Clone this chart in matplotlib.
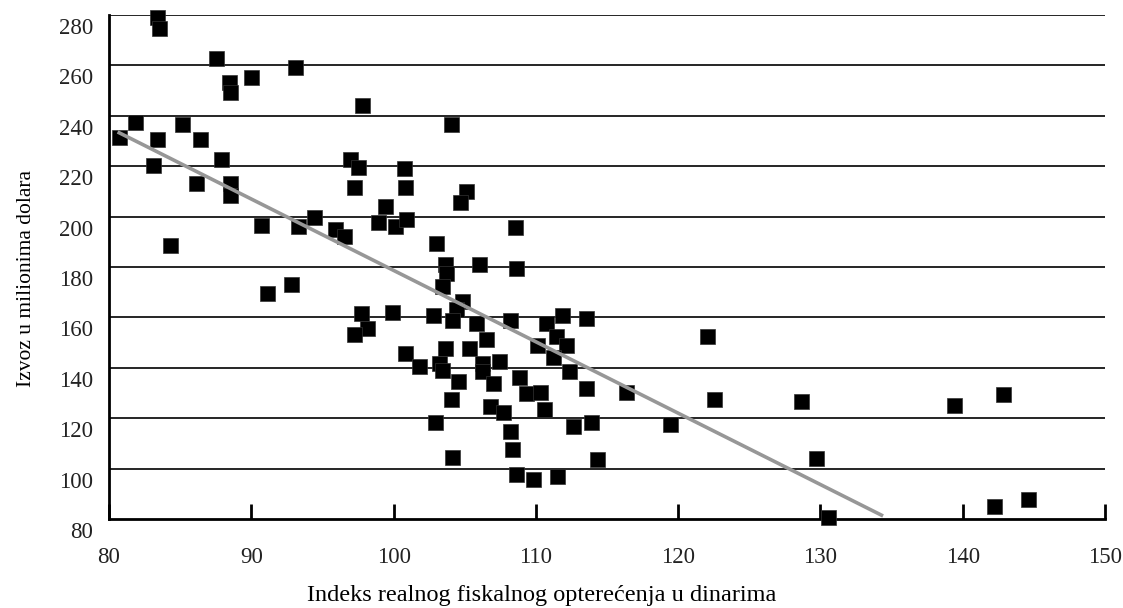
import matplotlib.pyplot as plt
import matplotlib.transforms as mtransforms

# values
x_vals = [83.4, 83.5, 87.5, 88.4, 88.5, 90.0, 93.1, 97.8, 80.7, 81.8,
          83.4, 85.1, 86.4, 83.1, 87.9, 86.1, 88.5, 88.5, 96.9, 97.5,
          97.2, 90.7, 93.3, 94.4, 95.9, 96.5, 84.3, 98.9, 99.4, 91.1,
          92.8, 97.7, 98.1, 97.2, 99.9, 104.0, 100.7, 100.8, 100.1, 100.9,
          105.1, 104.7, 108.5, 103.0, 103.6, 103.7, 103.4, 106.0, 108.6, 104.8,
          104.4, 102.8, 104.1, 105.8, 108.2, 110.7, 111.8, 113.5, 106.5, 111.4,
          112.1, 110.1, 103.6, 105.3, 100.8, 111.2, 107.4, 101.8, 103.2, 103.4,
          106.2, 106.2, 112.3, 108.8, 104.5, 107.0, 109.3, 110.3, 113.5, 116.3,
          104.0, 106.8, 107.7, 110.6, 102.9, 112.6, 113.9, 108.2, 108.3, 104.1,
          114.3, 108.6, 109.8, 111.5, 122.0, 122.5, 128.6, 139.4, 142.8, 119.4,
          129.7, 130.5, 142.2, 144.6]
y_vals = [279.3, 274.7, 262.8, 253.5, 249.3, 255.5, 259.2, 244.2, 231.5, 237.5,
          230.7, 236.7, 230.7, 220.3, 223.0, 213.2, 213.5, 208.7, 223.0, 219.6,
          211.6, 196.8, 196.4, 199.7, 195.0, 192.2, 188.8, 197.9, 204.2, 169.8,
          173.4, 161.9, 155.9, 153.5, 162.3, 236.7, 219.1, 211.6, 196.3, 199.2,
          210.0, 205.6, 196.0, 189.4, 181.0, 177.5, 172.6, 181.0, 179.7, 166.5,
          163.5, 161.0, 159.0, 157.7, 158.8, 157.9, 161.0, 159.8, 151.4, 152.7,
          149.0, 149.0, 148.0, 147.7, 145.7, 144.2, 142.8, 140.8, 141.8, 139.1,
          141.8, 138.9, 138.9, 136.5, 134.9, 133.9, 130.1, 130.5, 131.8, 130.5,
          127.7, 124.8, 122.5, 123.8, 118.6, 116.9, 118.6, 114.8, 107.8, 104.7,
          103.7, 97.7, 95.9, 97.1, 152.6, 127.7, 126.8, 125.2, 129.7, 117.6,
          104.3, 80.9, 85.2, 88.1]

# trend line end points
trend_x = [80.6, 134.4]
trend_y = [233.6, 81.2]

x_ticks = [80, 90, 100, 110, 120, 130, 140, 150]
y_ticks = [80, 100, 120, 140, 160, 180, 200, 220, 240, 260, 280]

x_label = "Indeks realnog fiskalnog opterećenja u dinarima"
y_label = "Izvoz u milionima dolara"

plt.rcParams['font.family'] = ['Liberation Serif', 'DejaVu Serif']
plt.rcParams['text.color'] = '#222222'
plt.rcParams['xtick.labelcolor'] = '#222222'
plt.rcParams['ytick.labelcolor'] = '#222222'

fig = plt.figure(figsize=(11.23, 6.08), dpi=100)
ax = fig.add_axes([0.0971, 0.1464, 0.8869, 0.8289])

ax.set_xlim(80, 150)
ax.set_ylim(80, 280)

# horizontal grid lines
for yv in y_ticks[1:]:
    ax.axhline(yv, color='black', lw=1.2, zorder=1)

ax.plot(x_vals, y_vals, ls='', marker='s', ms=10.8, color='black',
        mec='#333333', mew=0.5, zorder=4, clip_on=False)
ax.plot(trend_x, trend_y, color='#979797', lw=2.6, zorder=5,
        solid_capstyle='butt')

for side in ['top', 'right']:
    ax.spines[side].set_visible(False)
ax.spines['left'].set_linewidth(2)
ax.spines['bottom'].set_linewidth(2)

ax.set_xticks(x_ticks)
ax.set_yticks(y_ticks)
ax.tick_params(axis='x', direction='in', length=11, width=2,
               labelsize=16.5, pad=20)
ax.tick_params(axis='y', length=0, labelsize=16.5, pad=11.5)

# y labels sit a little under their grid lines
offset = mtransforms.ScaledTranslation(0, -11 / 100, fig.dpi_scale_trans)
for lab in ax.get_yticklabels():
    lab.set_transform(lab.get_transform() + offset)

ax.set_xlabel(x_label, fontsize=17.5)
ax.xaxis.set_label_coords(0.434, -0.13)
ax.set_ylabel(y_label, fontsize=15.5)
ax.yaxis.set_label_coords(-0.073, 0.478)

fig.savefig('out.png', dpi=100)
